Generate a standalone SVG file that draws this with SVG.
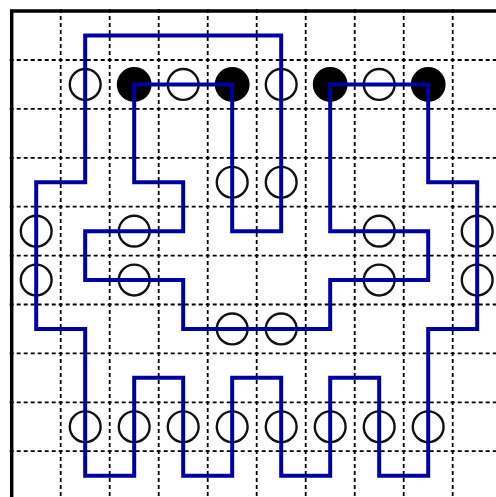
<svg xmlns="http://www.w3.org/2000/svg" width="496" height="497" viewBox="0 0 496 497">
<style>
.g{stroke:#000;stroke-width:1.8;stroke-dasharray:4 3;fill:none}
.w{fill:#fff;stroke:#111;stroke-width:2.4}
.b{fill:#000;stroke:#000;stroke-width:2.4}
.p{fill:none;stroke:#0000a0;stroke-width:4;stroke-linejoin:miter}
</style>
<rect width="496" height="497" fill="#fff"/>
<g id="grid">
<path class="g" d="M9.7 60H496M9.7 108.9H496M9.7 157.8H496M9.7 206.7H496M9.7 255.6H496M9.7 304.5H496M9.7 353.4H496M9.7 402.3H496M9.7 451.2H496"/>
<path class="g" d="M60.7 9.1V497M109.7 9.1V497M158.7 9.1V497M207.7 9.1V497M256.7 9.1V497M305.7 9.1V497M354.7 9.1V497M403.7 9.1V497M452.7 9.1V497"/>
<path d="M11.7 500V11.1H500" fill="none" stroke="#000" stroke-width="3.5"/>
</g>
<g id="circles">
<circle class="w" cx="85.2" cy="84.45" r="15.4"/>
<circle class="b" cx="134.2" cy="84.45" r="16.2"/>
<circle class="w" cx="183.2" cy="84.45" r="15.4"/>
<circle class="b" cx="232.2" cy="84.45" r="16.2"/>
<circle class="w" cx="281.2" cy="84.45" r="15.4"/>
<circle class="b" cx="330.2" cy="84.45" r="16.2"/>
<circle class="w" cx="379.2" cy="84.45" r="15.4"/>
<circle class="b" cx="428.2" cy="84.45" r="16.2"/>
<circle class="w" cx="232.2" cy="182.25" r="15.4"/>
<circle class="w" cx="281.2" cy="182.25" r="15.4"/>
<circle class="w" cx="36.2" cy="231.15" r="15.4"/>
<circle class="w" cx="134.2" cy="231.15" r="15.4"/>
<circle class="w" cx="379.2" cy="231.15" r="15.4"/>
<circle class="w" cx="477.2" cy="231.15" r="15.4"/>
<circle class="w" cx="36.2" cy="280.05" r="15.4"/>
<circle class="w" cx="134.2" cy="280.05" r="15.4"/>
<circle class="w" cx="379.2" cy="280.05" r="15.4"/>
<circle class="w" cx="477.2" cy="280.05" r="15.4"/>
<circle class="w" cx="232.2" cy="328.95" r="15.4"/>
<circle class="w" cx="281.2" cy="328.95" r="15.4"/>
<circle class="w" cx="85.2" cy="426.75" r="15.4"/>
<circle class="w" cx="134.2" cy="426.75" r="15.4"/>
<circle class="w" cx="183.2" cy="426.75" r="15.4"/>
<circle class="w" cx="232.2" cy="426.75" r="15.4"/>
<circle class="w" cx="281.2" cy="426.75" r="15.4"/>
<circle class="w" cx="330.2" cy="426.75" r="15.4"/>
<circle class="w" cx="379.2" cy="426.75" r="15.4"/>
<circle class="w" cx="428.2" cy="426.75" r="15.4"/>
</g>
<g id="connectors">
<path class="p" d="M85.2 35.55V182.25H36.2V328.95H85.2V475.65H134.2V377.85H183.2V475.65H232.2V377.85H281.2V475.65H330.2V377.85H379.2V475.65H428.2V328.95H477.2V182.25H428.2V84.45H330.2V231.15H428.2V280.05H330.2V328.95H183.2V280.05H85.2V231.15H183.2V182.25H134.2V84.45H232.2V231.15H281.2V35.55Z"/>
</g>
</svg>
